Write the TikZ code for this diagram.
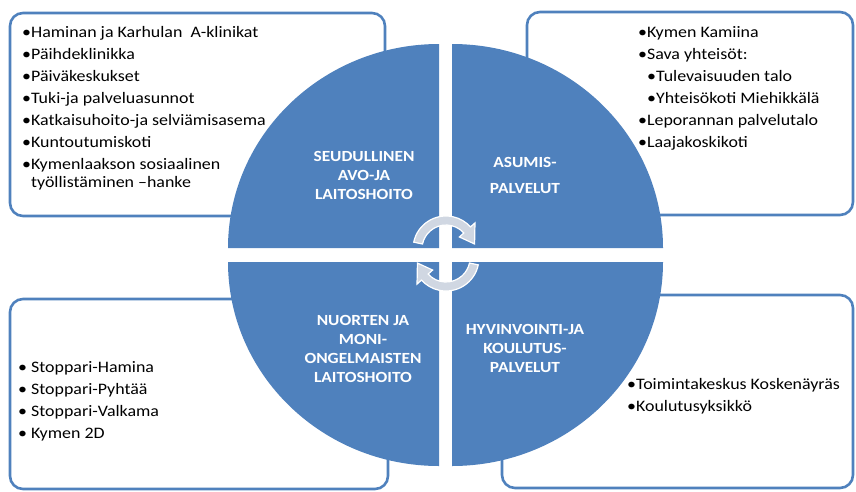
\documentclass[tikz,border=0pt]{standalone}
\usepackage{fontspec}
\setmainfont{Carlito}[FakeStretch=1.12]
\definecolor{officeblue}{RGB}{79,129,189}
\definecolor{arrowgray}{RGB}{208,215,226}
\tikzset{
  box/.style={draw=officeblue,line width=2.6pt,rounded corners=13pt,fill=white},
  quad/.style={fill=officeblue},
  cyc/.style={fill=arrowgray,draw=white,line width=1.2pt},
  itemlist/.style={anchor=north west,inner sep=0pt,align=left,font=\fontsize{16}{18}\selectfont},
  qlabel/.style={text=white,inner sep=0pt,align=center,font=\fontsize{15.5}{19}\selectfont\bfseries}
}
\begin{document}
\begin{tikzpicture}[x=1pt,y=-1pt]
  \useasboundingbox (0,0) rectangle (856,491);
  \draw[box] (10,13) rectangle (385,216);
  \draw[box] (527,12) rectangle (853,215);
  \draw[box] (10,299) rectangle (388,489);
  \draw[box] (502,295) rectangle (853,488);
  \foreach \cx/\cy/\a in {439/248/180,452/248/270,452/262/0,439/262/90}
    \fill[quad] (\cx,\cy) -- ++(\a:211 and 204) arc[start angle=\a,delta angle=90,x radius=211,y radius=204] -- cycle;
  \begin{scope}[shift={(446,249)}]
    \filldraw[cyc] (192:33) arc[start angle=192,end angle=318,radius=33] -- (318:39) -- (350:29) -- (318:18) -- (318:24) arc[start angle=318,end angle=192,radius=24] -- cycle;
  \end{scope}
  \begin{scope}[shift={(446,258)}]
    \filldraw[cyc] (12:33) arc[start angle=12,end angle=138,radius=33] -- (138:39) -- (170:29) -- (138:18) -- (138:24) arc[start angle=138,end angle=12,radius=24] -- cycle;
  \end{scope}
  \node[itemlist] (seuditems) at (22,26) {\textbullet Haminan ja Karhulan\ \ A-klinikat\\[4pt]
    \textbullet Päihdeklinikka\\[4pt]
    \textbullet Päiväkeskukset\\[4pt]
    \textbullet Tuki-ja palveluasunnot\\[4pt]
    \textbullet Katkaisuhoito-ja selviämisasema\\[4pt]
    \textbullet Kuntoutumiskoti\\[4pt]
    \textbullet Kymenlaakson sosiaalinen\\
    \phantom{\textbullet}työllistäminen –hanke};
  \node[itemlist] (asumitems) at (638,26) {\textbullet Kymen Kamiina\\[4pt]
    \textbullet Sava yhteisöt:\\[4pt]
    \hspace{9pt}\textbullet Tulevaisuuden talo\\[4pt]
    \hspace{9pt}\textbullet Yhteisökoti Miehikkälä\\[4pt]
    \textbullet Leporannan palvelutalo\\[4pt]
    \textbullet Laajakoskikoti};
  \node[itemlist] (nuoritems) at (18,361) {\textbullet\hspace{4pt}Stoppari-Hamina\\[4pt]
    \textbullet\hspace{4pt}Stoppari-Pyhtää\\[4pt]
    \textbullet\hspace{4pt}Stoppari-Valkama\\[4pt]
    \textbullet\hspace{4pt}Kymen 2D};
  \node[itemlist] (hyviitems) at (627,378) {\textbullet Toimintakeskus Koskenäyräs\\[4pt]
    \textbullet Koulutusyksikkö};
  \node[qlabel] (seud) at (364,175.5) {SEUDULLINEN\\AVO-JA\\LAITOSHOITO};
  \node[qlabel] (asum) at (525,175) {ASUMIS-\\[7pt]PALVELUT};
  \node[qlabel] (nuor) at (363,348.5) {NUORTEN JA\\MONI-\\ONGELMAISTEN\\LAITOSHOITO};
  \node[qlabel] (hyvi) at (525,348.5) {HYVINVOINTI-JA\\KOULUTUS-\\PALVELUT};
\end{tikzpicture}
\end{document}
